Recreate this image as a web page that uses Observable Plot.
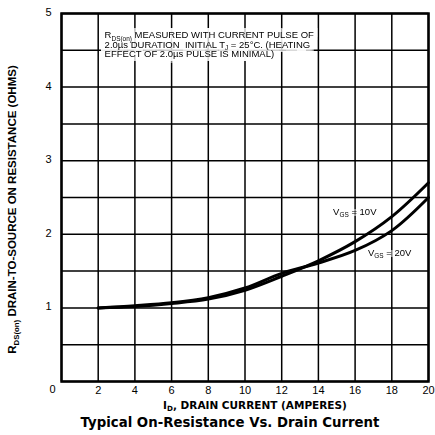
<!DOCTYPE html>
<html><head><meta charset="utf-8">
<script src="https://cdn.jsdelivr.net/npm/d3@7"></script>
<script src="https://cdn.jsdelivr.net/npm/@observablehq/plot@0.6"></script>
<style>html,body{margin:0;padding:0;background:#fff;} svg{display:block;}</style>
</head><body><div id="chart"></div>
<script>
// ---- data ----
const current = [2, 4, 6, 8, 10, 12, 14, 16, 18, 20];           // I_D, amperes
const rdsVgs10 = [1.00, 1.02, 1.06, 1.12, 1.24, 1.43, 1.64, 1.90, 2.24, 2.70]; // ohms
const rdsVgs20 = [1.00, 1.03, 1.07, 1.14, 1.27, 1.47, 1.61, 1.78, 2.05, 2.50]; // ohms
const xTicks = [2, 4, 6, 8, 10, 12, 14, 16, 18, 20];
const xGrid = [0, 2, 4, 6, 8, 10, 12, 14, 16, 18, 20];
const yTicks = [1, 2, 3, 4, 5];
const yOrigin = [0];
const yGrid = [0, 0.5, 1, 1.5, 2, 2.5, 3, 3.5, 4, 4.5, 5];
const seriesLabels = ["V{GS} = 10V", "V{GS} = 20V"];
const seriesLabelX = [14.8, 16.7];
const seriesLabelY = [2.31, 1.75];
const noteLines = [
  "R{DS(on)} MEASURED WITH CURRENT PULSE OF",
  "2.0µs DURATION  INITIAL T{J} = 25°C. (HEATING",
  "EFFECT OF 2.0µs PULSE IS MINIMAL)"
];
const noteAt = {x: 2.35, y: 4.578};
const xLabel = "I{D}, DRAIN CURRENT (AMPERES)";
const yLabel = "R{DS(on)} DRAIN-TO-SOURCE ON RESISTANCE (OHMS)";
const title = "Typical On-Resistance Vs. Drain Current";

const vgs10 = current.map((x, i) => ({x, r: rdsVgs10[i]}));
const vgs20 = current.map((x, i) => ({x, r: rdsVgs20[i]}));
const labels = seriesLabels.map((t, i) => ({t, x: seriesLabelX[i], y: seriesLabelY[i]}));
const note = [{t: noteLines.join("\n"), x: noteAt.x, y: noteAt.y}];

const FONT = "'Liberation Sans', Arial, Helvetica, sans-serif";
const WIDE = "'DejaVu Sans', 'Liberation Sans', sans-serif";

const chart = Plot.plot({
  width: 435, height: 435,
  marginLeft: 61, marginRight: 7, marginTop: 13, marginBottom: 54,
  style: {fontFamily: FONT, background: "#fff", color: "#000"},
  x: {domain: [0, 20]},
  y: {domain: [0, 5]},
  marks: [
    Plot.ruleX(xGrid, {stroke: "#000", strokeWidth: 1.5}),
    Plot.ruleY(yGrid, {stroke: "#000", strokeWidth: 1.5}),
    Plot.text(note, {x: "x", y: "y", text: "t", textAnchor: "start", fontSize: 9.5,
      lineHeight: 1.03, lineAnchor: "middle", fill: "#000", className: "note"}),
    Plot.line(vgs10, {x: "x", y: "r", stroke: "#000", strokeWidth: 3, curve: "catmull-rom"}),
    Plot.line(vgs20, {x: "x", y: "r", stroke: "#000", strokeWidth: 3, curve: "catmull-rom"}),
    Plot.text(labels, {x: "x", y: "y", text: "t", textAnchor: "start", fontSize: 9.5,
      fill: "#000", className: "curvelabel"}),
    Plot.frame({stroke: "#000", strokeWidth: 2.5}),
    Plot.axisX(xTicks, {tickSize: 0, tickPadding: 5, fontSize: 11, label: null}),
    Plot.axisY(yTicks, {tickSize: 0, tickPadding: 10, fontSize: 11, label: null, dy: -1, tickFormat: d3.format("d")}),
    Plot.text(yOrigin, {x: 0, y: d => d, text: d => String(d), frameAnchor: "left",
      textAnchor: "end", dx: -6, dy: 8, fontSize: 11}),
    Plot.text([xLabel], {frameAnchor: "bottom", dx: 10, dy: 27, fontSize: 10.5, fontWeight: "bold", fontFamily: WIDE}),
    Plot.text([title], {frameAnchor: "bottom", dx: -15, dy: 45, fontSize: 13.3, fontWeight: "bold", fontFamily: WIDE}),
    Plot.text([yLabel], {frameAnchor: "left", rotate: -90, textAnchor: "middle", dx: -49, dy: 12, fontSize: 11.5, fontWeight: "bold"})
  ]
});
document.getElementById("chart").appendChild(chart);

// white halo (dilated silhouette) behind annotation texts so the grid breaks around them
const defs = d3.select(chart).insert("defs", ":first-child");
function haloFilter(id, r) {
  const f = defs.append("filter").attr("id", id)
    .attr("color-interpolation-filters", "sRGB")
    .attr("filterUnits", "userSpaceOnUse")
    .attr("x", 0).attr("y", 0).attr("width", 435).attr("height", 435);
  f.append("feMorphology").attr("in", "SourceAlpha").attr("operator", "dilate").attr("radius", r).attr("result", "d");
  f.append("feFlood").attr("flood-color", "#fff").attr("flood-opacity", 1).attr("result", "w");
  f.append("feComposite").attr("in", "w").attr("in2", "d").attr("operator", "in").attr("result", "h");
  const m = f.append("feMerge");
  m.append("feMergeNode").attr("in", "h");
  m.append("feMergeNode").attr("in", "SourceGraphic");
}
haloFilter("halo-note", 4);
haloFilter("halo-label", 2);

// subscripts: text between braces is drawn smaller and lowered
d3.select(chart).selectAll("text, tspan").each(function() {
  const el = this;
  if (el.children.length) return;
  const s = el.textContent;
  if (!s.includes("{")) return;
  const fs = parseFloat(getComputedStyle(el).fontSize) || 10;
  const parts = s.split(/(\{[^}]*\})/).filter(p => p.length);
  while (el.firstChild) el.removeChild(el.firstChild);
  let lowered = false;
  for (const p of parts) {
    const sub = p.startsWith("{");
    const ts = d3.select(el).append("tspan").text(sub ? p.slice(1, -1) : p);
    if (sub) {
      ts.attr("font-size", (fs * 0.68) + "px").attr("dy", (fs * 0.28) + "px");
      lowered = true;
    } else if (lowered) {
      ts.attr("dy", (-fs * 0.28) + "px");
      lowered = false;
    }
  }
});

// wrap the annotation groups so the filter sees untransformed user space
d3.select(chart).selectAll("g.note, g.curvelabel").each(function() {
  const g = this;
  const id = g.classList.contains("note") ? "halo-note" : "halo-label";
  const wrap = document.createElementNS("http://www.w3.org/2000/svg", "g");
  wrap.setAttribute("filter", `url(#${id})`);
  g.parentNode.insertBefore(wrap, g);
  wrap.appendChild(g);
});
</script>
</body></html>
